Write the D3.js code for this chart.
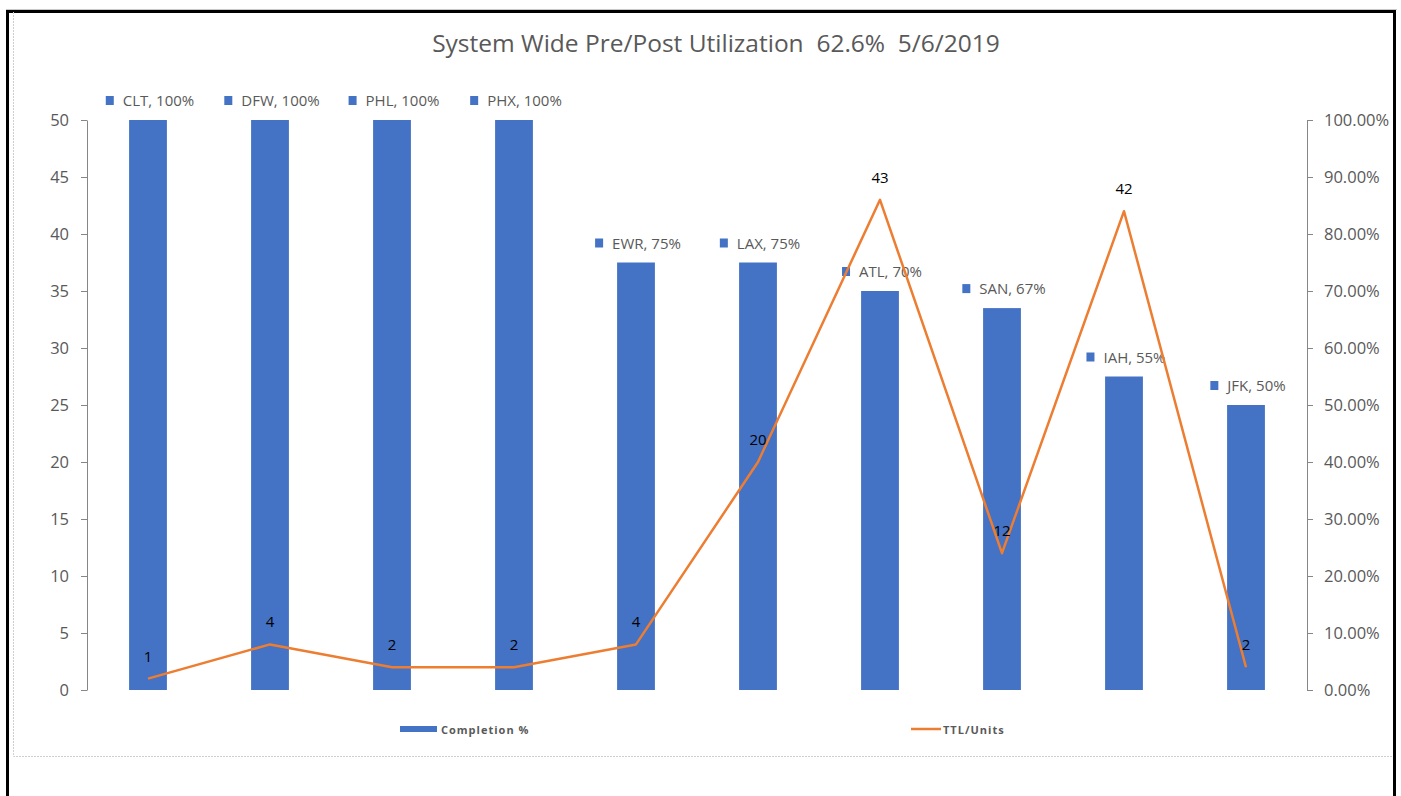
<!DOCTYPE html>
<html>
<head>
<meta charset="utf-8">
<style>
body { margin: 0; background: #fff; }
svg { display: block; }
</style>
</head>
<body>
<svg width="1401" height="796" font-family="'Open Sans', sans-serif"></svg>
<script src="https://cdn.jsdelivr.net/npm/d3@7"></script>
<script>

// chart values
var airports = ["CLT", "DFW", "PHL", "PHX", "EWR", "LAX", "ATL", "SAN", "IAH", "JFK"];
var completion = [1.00, 1.00, 1.00, 1.00, 0.75, 0.75, 0.70, 0.67, 0.55, 0.50];
var units = [1, 4, 2, 2, 4, 20, 43, 12, 42, 2];
var leftTicks = [0, 5, 10, 15, 20, 25, 30, 35, 40, 45, 50];
var rightTicks = [0, 0.1, 0.2, 0.3, 0.4, 0.5, 0.6, 0.7, 0.8, 0.9, 1.0];
var title = "System Wide Pre/Post Utilization  62.6%  5/6/2019";
var seriesNames = ["Completion %", "TTL/Units"];

var blue = "#4472C4", orange = "#ED7D31", textGray = "#595959", axisGray = "#868686";

var svg = d3.select("svg");

// outer frame
svg.append("line").attr("x1", 6).attr("x2", 1397).attr("y1", 9.5).attr("y2", 9.5)
    .attr("stroke", "#c8c8c8").attr("stroke-width", 1);
svg.append("path").attr("d", "M7.5,796 V11.5 H1394.5 V796")
    .attr("fill", "none").attr("stroke", "#000").attr("stroke-width", 3);
svg.append("path").attr("d", "M13.5,12 V756.5 H1393")
    .attr("fill", "none").attr("stroke", "#cfcfcf").attr("stroke-width", 1)
    .attr("stroke-dasharray", "2,1");

var x0 = 87, x1 = 1307, yTop = 120, yBot = 690;

var x = d3.scaleBand().domain(airports).range([x0, x1]).paddingInner(0.69).paddingOuter(0.345);
var yL = d3.scaleLinear().domain([0, 50]).range([yBot, yTop]);
var yR = d3.scaleLinear().domain([0, 1]).range([yBot, yTop]);

// title (keep the double spaces)
svg.append("text")
    .attr("x", 716).attr("y", 52)
    .attr("text-anchor", "middle")
    .style("white-space", "pre")
    .style("font-size", "24.5px")
    .style("fill", textGray)
    .text(title);

// axes
var axL = svg.append("g").attr("transform", "translate(" + x0 + ",0)")
    .call(d3.axisLeft(yL).tickValues(leftTicks).tickSize(6).tickPadding(12).tickSizeOuter(0));
var axR = svg.append("g").attr("transform", "translate(" + x1 + ",0)")
    .call(d3.axisRight(yR).tickValues(rightTicks).tickSize(6).tickPadding(11).tickSizeOuter(0)
        .tickFormat(d3.format(".2%")));
[axL, axR].forEach(function(ax) {
    ax.select(".domain").attr("stroke", axisGray);
    ax.selectAll(".tick line").attr("stroke", axisGray);
    ax.selectAll(".tick text").style("font-size", "16.5px").style("fill", textGray)
        .style("font-family", "'Open Sans', sans-serif");
});

// bars
svg.selectAll(".bar")
    .data(airports)
    .enter().append("rect")
    .attr("class", "bar")
    .attr("x", function(d) { return x(d); })
    .attr("width", x.bandwidth())
    .attr("y", function(d, i) { return yR(completion[i]); })
    .attr("height", function(d, i) { return yBot - yR(completion[i]); })
    .attr("fill", blue);

// bar labels: square + "CODE, NN%"
var barLab = svg.selectAll(".barlab")
    .data(airports)
    .enter().append("g")
    .attr("class", "barlab");
barLab.append("text")
    .attr("y", function(d, i) { return yR(completion[i]) - 14; })
    .style("font-size", "15px")
    .style("fill", textGray)
    .text(function(d, i) { return d + ", " + Math.round(completion[i] * 100) + "%"; })
    .each(function(d, i) {
        var w = this.getComputedTextLength();
        var cx = x(d) + x.bandwidth() / 2 + 2;
        var total = 8 + 9 + w;
        var sx = cx - total / 2;
        d3.select(this).attr("x", sx + 17);
        d3.select(this.parentNode).append("rect")
            .attr("x", sx).attr("y", yR(completion[i]) - 24)
            .attr("width", 8).attr("height", 9)
            .attr("fill", blue);
    });

// line
var line = d3.line()
    .x(function(d, i) { return x(airports[i]) + x.bandwidth() / 2; })
    .y(function(d) { return yL(d); });
svg.append("path")
    .datum(units)
    .attr("d", line)
    .attr("fill", "none")
    .attr("stroke", orange)
    .attr("stroke-width", 2.5)
    .attr("stroke-linejoin", "round");

svg.selectAll(".unitlab")
    .data(units)
    .enter().append("text")
    .attr("class", "unitlab")
    .attr("x", function(d, i) { return x(airports[i]) + x.bandwidth() / 2; })
    .attr("y", function(d) { return yL(d) - 17; })
    .attr("text-anchor", "middle")
    .style("font-size", "15px")
    .style("fill", "#000")
    .text(function(d) { return d; });

// legend
svg.append("rect").attr("x", 400).attr("y", 726).attr("width", 37).attr("height", 6).attr("fill", blue);
svg.append("text").attr("x", 441).attr("y", 733.5)
    .style("font-size", "11px").style("font-weight", "bold").style("fill", textGray)
    .style("letter-spacing", "1px")
    .text(seriesNames[0]);
svg.append("line").attr("x1", 911).attr("x2", 941).attr("y1", 729).attr("y2", 729)
    .attr("stroke", orange).attr("stroke-width", 2.5);
svg.append("text").attr("x", 943).attr("y", 733.5)
    .style("font-size", "11px").style("font-weight", "bold").style("fill", textGray)
    .style("letter-spacing", "1px")
    .text(seriesNames[1]);

</script>
</body>
</html>
